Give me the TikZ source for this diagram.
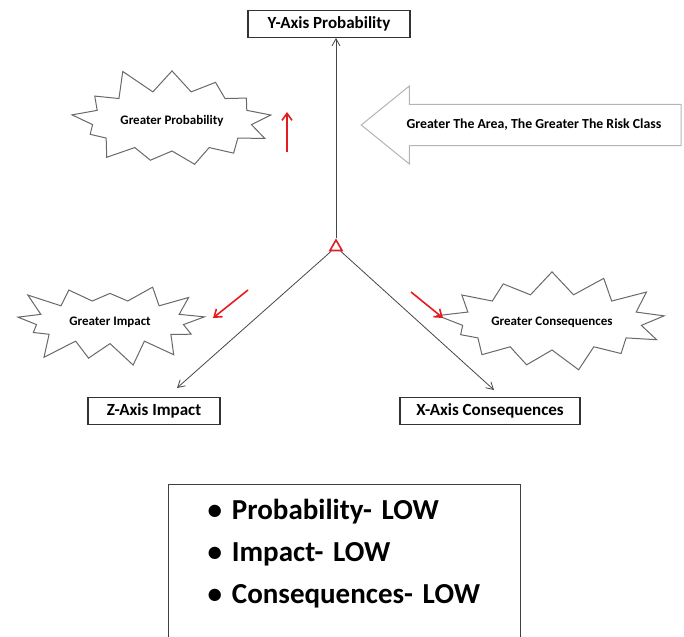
\documentclass[tikz,border=0pt]{standalone}
\usepackage{fontspec}
\setmainfont{Carlito}
\usetikzlibrary{arrows.meta,shapes.symbols,shapes.arrows,shapes.geometric}
\definecolor{rkred}{RGB}{228,28,32}
\definecolor{rkline}{RGB}{70,70,70}
\definecolor{rkgrey}{RGB}{105,105,105}
\definecolor{rkpale}{RGB}{180,180,180}
\tikzset{
  axbox/.style={draw=black!80, line width=1.1pt, fill=white, minimum height=27pt,
                inner sep=2pt, font=\fontsize{17}{19}\selectfont\bfseries},
  burst/.style={starburst, draw=rkgrey, line width=1pt, fill=white,
                starburst points=13, starburst point height=27pt, inner xsep=2pt,
                inner ysep=10pt, font=\fontsize{13}{15}\selectfont\bfseries},
  bigarr/.style={single arrow, shape border rotate=180, draw=rkpale, line width=1pt,
                 minimum height=320pt, minimum width=78pt, single arrow head extend=17pt,
                 single arrow tip angle=78, inner xsep=2pt, inner ysep=13pt,
                 font=\fontsize{13.8}{15}\selectfont\bfseries},
  axis/.style={draw=rkline, line width=0.8pt, -{Straight Barb[length=7pt,width=8pt]}},
  hint/.style={draw=rkred, line width=1.6pt, -{Straight Barb[length=7pt,width=10pt]}},
  lst/.style={draw=black!75, line width=1pt, text width=274pt, inner xsep=39pt,
              inner ysep=15pt, align=left, font=\fontsize{29}{42}\selectfont\bfseries},
}
\begin{document}
\begin{tikzpicture}[x=1pt,y=-1pt]
\useasboundingbox (0,0) rectangle (684,636);
% bursts and the big arrow
\node[burst, minimum width=214pt, minimum height=114pt, random starburst=11] (gp) at (172,121) {Greater Probability};
\node[burst, minimum width=202pt, minimum height=94pt, random starburst=23] (gi) at (110,322) {Greater Impact};
\node[burst, minimum width=234pt, minimum height=110pt, random starburst=37] (gc) at (552,322) {Greater Consequences};
\node[bigarr] (area) at (534,125) {Greater The Area, The Greater The Risk Class};
% axis boxes
\node[axbox, minimum width=162pt] (yb) at (329,24) {Y-Axis Probability};
\node[axbox, minimum width=132pt] (zb) at (154,411) {Z-Axis Impact};
\node[axbox, minimum width=180pt] (xb) at (490,411) {X-Axis Consequences};
\node[regular polygon, regular polygon sides=3, draw=rkred, line width=1.6pt,
      fill=white, minimum size=14pt, inner sep=0pt] (o) at (336,247) {};
\coordinate (zend) at (177,388);
\coordinate (xend) at (494,390);
\draw[axis] (o) -- (o |- yb.south);
\draw[axis] (o) -- (zend);
\draw[axis] (o) -- (xend);
% red hints
\coordinate (p1) at (287,152);
\coordinate (p2) at (287,112);
\coordinate (i1) at (248,290);
\coordinate (i2) at (213,318);
\coordinate (c1) at (411,292);
\coordinate (c2) at (443,318);
\draw[hint] (p1) -- (p2);
\draw[hint] (i1) -- (i2);
\draw[hint] (c1) -- (c2);
% summary
\node[lst, anchor=north west] (sum) at (168,484) {%
\textbullet\hspace{10pt}Probability- LOW\\
\textbullet\hspace{10pt}Impact- LOW\\
\textbullet\hspace{10pt}Consequences- LOW\rule[-40pt]{0pt}{40pt}};
\end{tikzpicture}
\end{document}
